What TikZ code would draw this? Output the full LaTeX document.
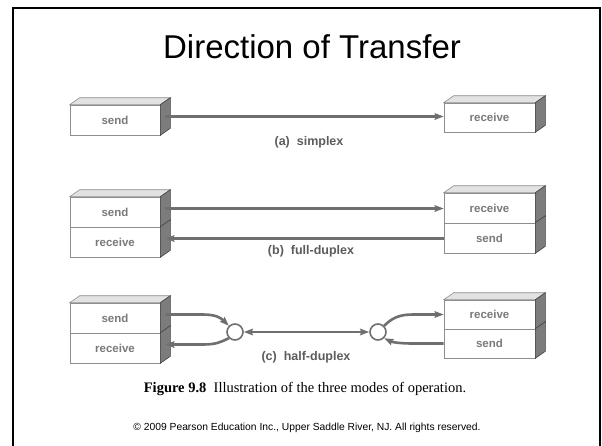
\documentclass[tikz,border=0pt]{standalone}
\usepackage{fontspec}
\setmainfont{Liberation Serif}
\setsansfont{Liberation Sans}
\usetikzlibrary{arrows.meta,calc}

\definecolor{facetop}{HTML}{E2E2E2}
\definecolor{faceside}{HTML}{7C7C7C}
\definecolor{edgegray}{HTML}{8E8E8E}
\definecolor{linkgray}{HTML}{6F6F6F}
\definecolor{labelgray}{HTML}{7A7A7A}

\tikzset{
  cell/.style={draw=edgegray, line width=0.6pt, fill=white, minimum width=90, minimum height=30,
    inner sep=0pt, font=\sffamily\bfseries\fontsize{11.5}{13}\selectfont, text=labelgray},
  link/.style={draw=linkgray, line width=2.6pt, line cap=butt},
  tip/.style={-{Stealth[length=9pt,width=6.5pt,inset=1pt]}},
  junction/.style={circle, draw=linkgray, line width=1.6pt, fill=white, minimum size=16, inner sep=0pt},
  modelabel/.style={font=\sffamily\bfseries\fontsize{12.5}{14}\selectfont, text=labelgray!75!black},
}

% top face of a box, above the named front cell
\newcommand\boxtop[1]{%
  \filldraw[fill=facetop, draw=edgegray, line width=0.6pt]
    (#1.north west) -- ++(10,-7) -- ($(#1.north east)+(10,-7)$) -- (#1.north east) -- cycle;}
% right side face beside the named front cell
\newcommand\boxside[1]{%
  \filldraw[fill=faceside, draw=black!75, line width=0.6pt]
    (#1.north east) -- ++(10,-7) -- ($(#1.south east)+(10,-7)$) -- (#1.south east) -- cycle;
  \coordinate (#1-s) at ($(#1.east)+(5,-3.5)$);}

\begin{document}
\begin{tikzpicture}[x=1pt,y=-1pt]
\useasboundingbox (0,0) rectangle (602,445);
\fill[white] (0,0) rectangle (602,445);

% slide frame
\draw[line width=2pt] (13,455) -- (13,8) -- (600,8) -- (600,455);

\node[font=\sffamily\fontsize{33}{38}\selectfont] (title) at (312,47) {Direction of Transfer};

% ---------- (a) simplex ----------
\node[cell] (aS) at (115,120) {send};
\boxtop{aS}\boxside{aS}
\node[cell, minimum width=91, minimum height=29] (aR) at (489.5,117.5) {receive};
\boxtop{aR}\boxside{aR}
\draw[link,tip] (aS-s) -- (aR.west |- aS-s);
\node[modelabel] (la) at (309,142) {(a)\ \ simplex};

% ---------- (b) full-duplex ----------
\node[cell] (bS) at (115,212) {send};
\node[cell] (bR) at (115,242) {receive};
\boxtop{bS}\boxside{bS}\boxside{bR}
\node[cell, minimum width=91] (bR2) at (489.5,208) {receive};
\node[cell, minimum width=91] (bS2) at (489.5,238) {send};
\boxtop{bR2}\boxside{bR2}\boxside{bS2}
\draw[link,tip] (bS-s) -- (bR2.west |- bS-s);
\draw[link,tip] (bS2.west |- bR-s) -- (bR-s);
\node[modelabel] (lb) at (311,251) {(b)\ \ full-duplex};

% ---------- (c) half-duplex ----------
\node[cell] (cS) at (115,318) {send};
\node[cell] (cR) at (115,348) {receive};
\boxtop{cS}\boxside{cS}\boxside{cR}
\node[cell, minimum width=91, minimum height=29] (cR2) at (489.5,314.5) {receive};
\node[cell, minimum width=91, minimum height=29] (cS2) at (489.5,343.5) {send};
\boxtop{cR2}\boxside{cR2}\boxside{cS2}

\node[junction] (jl) at (235,332) {};
\node[junction] (jr) at (378,332) {};

\coordinate (kl1) at (203,0 |- cS-s);
\coordinate (kl2) at (203,0 |- cR-s);
\coordinate (kr1) at (413,0 |- cR2.west);
\coordinate (kr2) at (413,0 |- cS2.west);

\draw[link,tip] (cS-s) -- (kl1) .. controls (216,314.5) and (221,318) .. (jl.135);
\draw[link,tip] (jl.225) .. controls (221,342) and (216,344.5) .. (kl2) -- (cR-s);
\draw[link,{Stealth[length=9pt,width=6.5pt,inset=1pt]}-{Stealth[length=9pt,width=6.5pt,inset=1pt]}] (jl.east) -- (jr.west);
\draw[link,tip] (jr.45) .. controls (392,318) and (399,314.5) .. (kr1) -- (cR2.west);
\draw[link,tip] (cS2.west) -- (kr2) .. controls (399,343.5) and (392,342) .. (jr.-45);
\node[modelabel] (lc) at (306,357) {(c)\ \ half-duplex};

% caption and credit line
\node[font=\fontsize{14.5}{16}\selectfont] (cap) at (305,389)
  {\textbf{Figure 9.8}\ \ Illustration of the three modes of operation.};
\node[font=\sffamily\fontsize{10.3}{12}\selectfont] (copy) at (307,428)
  {© 2009 Pearson Education Inc., Upper Saddle River, NJ. All rights reserved.};
\end{tikzpicture}
\end{document}
